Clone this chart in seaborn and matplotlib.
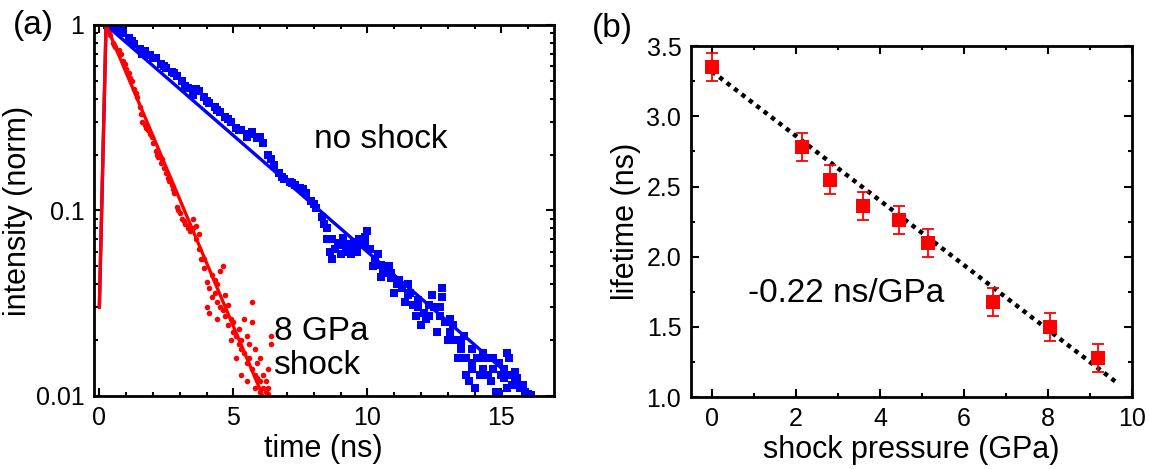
import matplotlib
matplotlib.use("Agg")
import matplotlib.pyplot as plt
from matplotlib.ticker import MultipleLocator, FixedLocator, FixedFormatter, LogLocator, NullFormatter
import seaborn as sns

# --- panel (a): decay traces (time in ns, normalised intensity) ---
blue_t = [0.3, 0.5, 0.7, 0.9, 1.1, 1.3, 1.5, 1.7, 1.9, 2.1, 2.3, 2.5, 2.7, 2.9, 3.1, 3.3,
          3.5, 3.7, 3.9, 4.1, 4.3, 4.5, 4.7, 4.9, 5.1, 5.3, 5.5, 5.7, 5.9, 6.1, 6.3, 6.5,
          6.7, 6.9, 7.1, 7.3, 7.5, 7.7, 7.9, 8.1, 8.3, 8.5, 8.7, 8.9, 9.1, 9.3, 9.5, 9.7,
          9.9, 10.1, 10.3, 10.5, 10.7, 10.9, 11.1, 11.3, 11.5, 11.7, 11.9, 12.1, 12.3, 12.5,
          12.7, 12.9, 13.1, 13.3, 13.5, 13.7, 13.9, 14.1, 14.3, 14.5, 14.7, 14.9, 15.1, 15.3,
          15.5, 15.7, 15.9, 16.1]
blue_i = [1.0, 0.98, 0.95, 0.90, 0.85, 0.79, 0.74, 0.72, 0.69, 0.66, 0.62, 0.59, 0.56, 0.53, 0.50, 0.46,
          0.42, 0.44, 0.41, 0.38, 0.36, 0.34, 0.32, 0.30, 0.28, 0.27, 0.25, 0.265, 0.245, 0.23, 0.20, 0.175,
          0.16, 0.148, 0.142, 0.138, 0.133, 0.125, 0.112, 0.103, 0.092, 0.080, 0.070, 0.067, 0.065, 0.066, 0.068, 0.070,
          0.072, 0.062, 0.055, 0.051, 0.047, 0.043, 0.040, 0.038, 0.035, 0.031, 0.030, 0.028, 0.031, 0.030,
          0.027, 0.025, 0.022, 0.020, 0.018, 0.016, 0.015, 0.016, 0.014, 0.013, 0.014, 0.015, 0.014, 0.013,
          0.012, 0.011, 0.0105, 0.0101]
# extra scattered blue points (band thickness and the noisy tail)
blue_t2 = [0.4, 0.8, 1.2, 1.6, 2.0, 2.4, 2.8, 3.2, 3.6, 4.0, 4.4, 4.8, 5.2, 5.6, 6.0, 6.4,
           6.8, 7.2, 7.6, 8.0, 8.4,
           8.5, 8.6, 8.7, 8.8, 9.0, 9.2, 9.4, 9.6, 9.8, 10.0, 10.2, 10.4, 10.6, 10.8, 11.0, 11.2,
           11.4, 11.6, 11.8, 12.0, 12.2, 12.4, 12.6, 12.8, 12.8, 13.0, 13.2, 13.4, 13.6, 13.7, 13.8, 13.9,
           14.0, 14.2, 14.4, 14.6, 14.8, 15.0, 15.2, 15.4, 15.2, 15.6, 15.8, 16.0, 14.9, 15.3,
           9.1, 9.5, 9.9, 10.5, 10.9, 11.5, 11.9, 12.3, 12.7, 13.1, 13.5, 13.9, 14.3, 14.7, 15.1, 15.5]
blue_i2 = [0.97, 0.93, 0.82, 0.70, 0.66, 0.60, 0.55, 0.47, 0.45, 0.39, 0.35, 0.31, 0.27, 0.26, 0.25, 0.19,
           0.152, 0.140, 0.130, 0.108, 0.085,
           0.070, 0.060, 0.055, 0.062, 0.058, 0.060, 0.058, 0.060, 0.065, 0.078, 0.050, 0.058, 0.046, 0.050, 0.036, 0.042,
           0.032, 0.036, 0.027, 0.024, 0.026, 0.035, 0.022, 0.038, 0.034, 0.020, 0.024, 0.016, 0.021, 0.013, 0.012, 0.018,
           0.011, 0.013, 0.016, 0.012, 0.0105, 0.013, 0.017, 0.0115, 0.011, 0.0125, 0.0115, 0.0102, 0.0102, 0.016,
           0.071, 0.063, 0.066, 0.044, 0.046, 0.040, 0.033, 0.027, 0.030, 0.026, 0.019, 0.014, 0.017, 0.016, 0.0125, 0.0135]

red_t = [0.3, 0.4, 0.5, 0.6, 0.7, 0.8, 0.9, 1.0, 1.1, 1.2, 1.3, 1.4, 1.5, 1.6, 1.7, 1.8,
         1.9, 2.0, 2.1, 2.2, 2.3, 2.4, 2.5, 2.6, 2.7, 2.8, 2.9, 3.0, 3.1, 3.2, 3.3, 3.4,
         3.5, 3.6, 3.7, 3.8, 3.9, 4.0, 4.1, 4.2, 4.3, 4.4, 4.5, 4.6, 4.7, 4.8, 4.9, 5.0,
         5.1, 5.2, 5.3, 5.4, 5.5, 5.6, 5.7, 5.8, 5.9, 6.0, 6.1, 6.2, 6.3]
red_i = [0.97, 0.88, 0.80, 0.76, 0.72, 0.70, 0.64, 0.58, 0.55, 0.50, 0.45, 0.41, 0.36, 0.30, 0.29, 0.27,
         0.26, 0.23, 0.21, 0.195, 0.18, 0.17, 0.16, 0.145, 0.138, 0.125, 0.105, 0.097, 0.090, 0.085, 0.080, 0.078,
         0.080, 0.070, 0.062, 0.055, 0.049, 0.041, 0.038, 0.034, 0.036, 0.032, 0.030, 0.029, 0.027, 0.024, 0.026, 0.022,
         0.021, 0.019, 0.018, 0.017, 0.015, 0.016, 0.014, 0.013, 0.0125, 0.012, 0.011, 0.0105, 0.0102]
red_t2 = [0.35, 0.55, 0.75, 0.95, 1.15, 1.35, 1.55, 1.75, 1.95, 2.15, 2.35, 2.55, 2.75, 2.95, 3.15, 3.35,
          3.5, 3.6, 3.7, 3.9, 4.0, 4.1, 4.2, 4.3, 4.4, 4.5, 4.6, 4.4, 4.7, 4.8, 4.9, 5.0,
          5.1, 5.2, 5.3, 5.4, 5.5, 5.6, 5.7, 5.7, 5.8, 5.9, 6.0, 6.1, 6.2, 6.3, 6.4, 6.4,
          6.3, 5.3, 5.5, 5.8, 6.0]
red_i2 = [0.93, 0.78, 0.73, 0.62, 0.52, 0.43, 0.33, 0.28, 0.25, 0.20, 0.19, 0.15, 0.13, 0.10, 0.088, 0.082,
          0.090, 0.082, 0.075, 0.055, 0.030, 0.028, 0.045, 0.042, 0.040, 0.047, 0.050, 0.026, 0.035, 0.031, 0.020, 0.025,
          0.016, 0.023, 0.020, 0.026, 0.021, 0.019, 0.032, 0.025, 0.018, 0.015, 0.016, 0.013, 0.012, 0.014, 0.019, 0.021,
          0.011, 0.013, 0.012, 0.011, 0.0105]

# single-exponential fits (vertices on the log scale)
blue_fit_t = [0.0, 0.25, 16.2]
blue_fit_i = [0.03, 1.0, 0.01]
red_fit_t = [0.0, 0.25, 6.1]
red_fit_i = [0.03, 1.0, 0.01]

# --- panel (b): lifetime vs shock pressure ---
pressure = [0.0, 2.15, 2.8, 3.6, 4.45, 5.15, 6.7, 8.05, 9.2]
lifetime = [3.35, 2.78, 2.55, 2.36, 2.26, 2.10, 1.68, 1.50, 1.28]
lifetime_err = [0.1, 0.1, 0.1, 0.1, 0.1, 0.1, 0.1, 0.1, 0.1]
fit_p = [0.0, 9.65]
fit_tau = [3.32, 1.10]

sns.set_style("ticks")
plt.rcParams["font.family"] = ["Liberation Sans", "DejaVu Sans"]
plt.rcParams["text.color"] = "black"
plt.rcParams["axes.labelcolor"] = "black"

fig = plt.figure(figsize=(11.49, 4.69), dpi=100)
ax1 = fig.add_axes([0.0818, 0.1557, 0.400, 0.791])
ax2 = fig.add_axes([0.6014, 0.1535, 0.3838, 0.748])

# panel (a)
sns.lineplot(x=blue_fit_t, y=blue_fit_i, ax=ax1, color="blue", lw=2.4, sort=False)
sns.lineplot(x=red_fit_t, y=red_fit_i, ax=ax1, color="red", lw=2.4, sort=False)
sns.scatterplot(x=blue_t + blue_t2, y=blue_i + blue_i2, ax=ax1, color="blue", marker="s",
                s=26, linewidth=0)
sns.scatterplot(x=red_t + red_t2, y=red_i + red_i2, ax=ax1, color="red", marker="o",
                s=16, linewidth=0)
ax1.set_yscale("log")
ax1.set_xlim(-0.2, 16.95)
ax1.set_ylim(0.01, 1)
ax1.xaxis.set_major_locator(MultipleLocator(5))
ax1.xaxis.set_minor_locator(MultipleLocator(1))
ax1.yaxis.set_major_locator(FixedLocator([0.01, 0.1, 1]))
ax1.yaxis.set_major_formatter(FixedFormatter(["0.01", "0.1", "1"]))
ax1.yaxis.set_minor_locator(LogLocator(base=10, subs=range(2, 10)))
ax1.yaxis.set_minor_formatter(NullFormatter())
ax1.set_xlabel("time (ns)", fontsize=22, labelpad=3)
ax1.set_ylabel("intensity (norm)", fontsize=22, labelpad=2)
ax1.text(8.0, 0.24, "no shock", fontsize=24, ha="left", va="center")
ax1.text(6.5, 0.018, "8 GPa\nshock", fontsize=24, ha="left", va="center", linespacing=1.15)

# panel (b)
sns.lineplot(x=fit_p, y=fit_tau, ax=ax2, color="black", lw=3.2, linestyle=(0, (1, 1.1)))
ax2.errorbar(pressure, lifetime, yerr=lifetime_err, fmt="none", ecolor="red",
             elinewidth=1.3, capsize=4.5, capthick=1.3)
sns.scatterplot(x=pressure, y=lifetime, ax=ax2, color="red", marker="s", s=95,
                linewidth=0, zorder=5)
ax2.set_xlim(-0.5, 10)
ax2.set_ylim(1.0, 3.5)
ax2.xaxis.set_major_locator(MultipleLocator(2))
ax2.xaxis.set_minor_locator(MultipleLocator(1))
ax2.yaxis.set_major_locator(MultipleLocator(0.5))
ax2.yaxis.set_minor_locator(MultipleLocator(0.25))
ax2.yaxis.set_major_formatter(plt.FormatStrFormatter("%.1f"))
ax2.set_xlabel("shock pressure (GPa)", fontsize=22, labelpad=3)
ax2.set_ylabel("lifetime (ns)", fontsize=22, labelpad=4)
ax2.text(0.86, 1.74, "-0.22 ns/GPa", fontsize=24, ha="left", va="center")

for ax in (ax1, ax2):
    ax.tick_params(which="both", direction="in", top=True, right=True, labelsize=18,
                   colors="black", width=1.5)
    ax.tick_params(which="major", length=6, pad=7)
    ax.tick_params(which="minor", length=3)
    for sp in ax.spines.values():
        sp.set_linewidth(2)
        sp.set_color("black")

fig.text(0.011, 0.945, "(a)", fontsize=24, ha="left", va="center")
fig.text(0.515, 0.94, "(b)", fontsize=24, ha="left", va="center")

fig.savefig("out.png", dpi=100)
